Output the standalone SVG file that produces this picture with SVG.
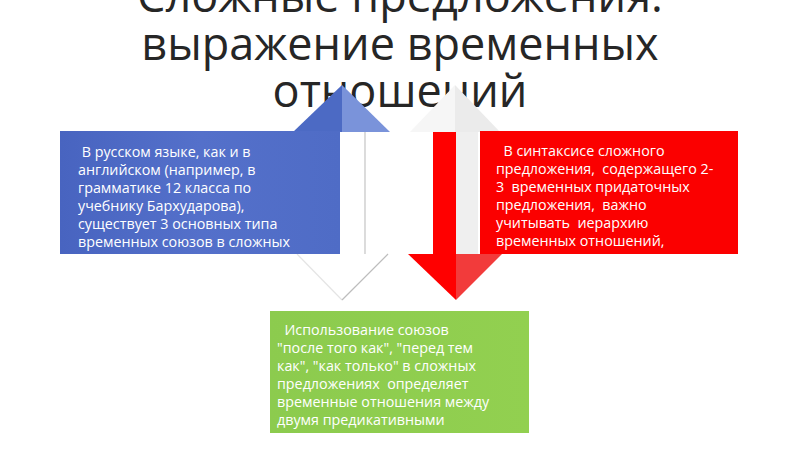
<svg xmlns="http://www.w3.org/2000/svg" width="800" height="449" viewBox="0 0 800 449">
  <defs>
    <linearGradient id="gBlue" x1="0" y1="0" x2="1" y2="0">
      <stop offset="0" stop-color="#4864C0"/>
      <stop offset="0.5" stop-color="#5470CA"/>
      <stop offset="1" stop-color="#4F6CC6"/>
    </linearGradient>
    <linearGradient id="gGreen" x1="0" y1="0" x2="1" y2="0">
      <stop offset="0" stop-color="#8CCB4E"/>
      <stop offset="1" stop-color="#92D050"/>
    </linearGradient>
  </defs>
  <style>
    .title { font-family: "Open Sans", "Noto Sans", "DejaVu Sans", sans-serif; font-size: 45px; fill: #262626; text-anchor: middle; }
    .body { font-family: "Open Sans", "Noto Sans", "DejaVu Sans", sans-serif; font-size: 14.3px; fill: #FFFFFF; white-space: pre; }
  </style>
  <rect x="0" y="0" width="800" height="449" fill="#FFFFFF"/>

  <g id="title">
    <text class="title" x="400" y="12">Сложные предложения:</text>
    <text class="title" x="400" y="60">выражение временных</text>
    <text class="title" x="400" y="107">отношений</text>
  </g>

  <g id="connectors">
    <g id="arrow-up-left">
      <polygon points="293,132 342,85 342,132" fill="#4C6AC4"/>
      <polygon points="342,85 390,132 342,132" fill="#7A93DA"/>
      <rect x="320" y="132" width="45" height="122" fill="#FFFFFF"/>
      <line x1="365" y1="132" x2="365" y2="254" stroke="#C4C4C4" stroke-width="1.2"/>
      <polygon points="297,254 342,300 388,254" fill="#FFFFFF"/>
      <line x1="297" y1="254" x2="342" y2="300" stroke="#E4E4E4" stroke-width="1.2"/>
      <line x1="342" y1="300" x2="388" y2="254" stroke="#BDBDBD" stroke-width="1.2"/>
    </g>
    <g id="arrow-down-right">
      <polygon points="410,132 455,85 455,132" fill="#F6F6F6"/>
      <polygon points="455,85 500,132 455,132" fill="#EBEBEB"/>
      <rect x="433" y="132" width="23" height="122" fill="#FF0000"/>
      <rect x="456" y="132" width="22" height="122" fill="#EFEFEF"/>
      <polygon points="408,254 456,300 456,254" fill="#FF0000"/>
      <polygon points="456,254 502,254 456,300" fill="#F23B3B"/>
    </g>
  </g>

  <g id="box-blue">
    <rect x="60" y="131" width="280" height="123" fill="url(#gBlue)"/>
    <text class="body" x="78" y="157"> В русском языке, как и в</text>
    <text class="body" x="78" y="175">английском (например, в</text>
    <text class="body" x="78" y="193">грамматике 12 класса по</text>
    <text class="body" x="78" y="211">учебнику Бархударова),</text>
    <text class="body" x="78" y="229">существует 3 основных типа</text>
    <text class="body" x="78" y="247">временных союзов в сложных</text>
  </g>

  <g id="box-red">
    <rect x="480" y="131" width="258" height="123" fill="#FB0000"/>
    <text class="body" x="496" y="156">  В синтаксисе сложного</text>
    <text class="body" x="496" y="174">предложения,  содержащего 2-</text>
    <text class="body" x="496" y="192">3  временных придаточных</text>
    <text class="body" x="496" y="210">предложения,  важно</text>
    <text class="body" x="496" y="228">учитывать  иерархию</text>
    <text class="body" x="496" y="246">временных отношений,</text>
  </g>

  <g id="box-green">
    <rect x="270" y="311" width="259" height="122" fill="url(#gGreen)"/>
    <text class="body" x="277" y="335">  Использование союзов</text>
    <text class="body" x="277" y="353">"после того как", "перед тем</text>
    <text class="body" x="277" y="371">как", "как только" в сложных</text>
    <text class="body" x="277" y="389">предложениях  определяет</text>
    <text class="body" x="277" y="407">временные отношения между</text>
    <text class="body" x="277" y="425">двумя предикативными</text>
  </g>
</svg>
